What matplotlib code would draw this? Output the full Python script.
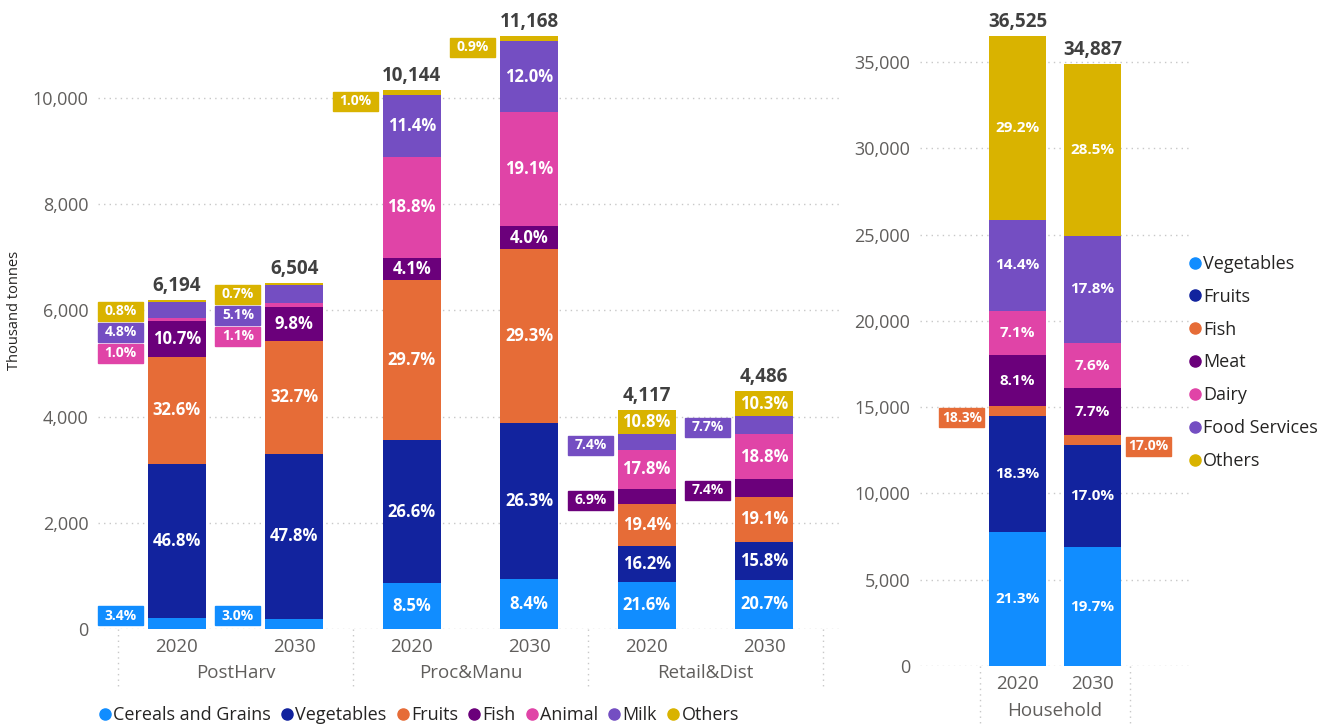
import numpy as np
import matplotlib.pyplot as plt
from matplotlib.patches import Rectangle
from matplotlib.lines import Line2D

plt.rcParams['font.family'] = ['Open Sans', 'DejaVu Sans']

# supply chain stages (left panel)
stages = ["PostHarv", "Proc&Manu", "Retail&Dist"]
years = ["2020", "2030"]
chain_cats = ["Cereals and Grains", "Vegetables", "Fruits", "Fish", "Animal", "Milk", "Others"]
chain_totals = [6194, 6504, 10144, 11168, 4117, 4486]
chain_pct = {
    "Cereals and Grains": [3.4, 3.0, 8.5, 8.4, 21.6, 20.7],
    "Vegetables":         [46.8, 47.8, 26.6, 26.3, 16.2, 15.8],
    "Fruits":             [32.6, 32.7, 29.7, 29.3, 19.4, 19.1],
    "Fish":               [10.7, 9.8, 4.1, 4.0, 6.9, 7.4],
    "Animal":             [1.0, 1.1, 18.8, 19.1, 17.8, 18.8],
    "Milk":               [4.8, 5.1, 11.4, 12.0, 7.4, 7.7],
    "Others":             [0.8, 0.7, 1.0, 0.9, 10.8, 10.3],
}
chain_labels = {k: [f"{p:.1f}%" for p in v] for k, v in chain_pct.items()}

# household (right panel)
hh_cats = ["Vegetables", "Fruits", "Fish", "Meat", "Dairy", "Food Services", "Others"]
hh_totals = [36525, 34887]
hh_pct = {
    "Vegetables":    [21.3, 19.7],
    "Fruits":        [18.3, 17.0],
    "Fish":          [1.6, 1.7],
    "Meat":          [8.1, 7.7],
    "Dairy":         [7.1, 7.6],
    "Food Services": [14.4, 17.8],
    "Others":        [29.2, 28.5],
}
hh_labels = {k: [f"{p:.1f}%" for p in v] for k, v in hh_pct.items()}
hh_labels["Fish"] = ["18.3%", "17.0%"]   # as printed on the chart

palette = ["#118DFF", "#12239E", "#E66C37", "#6B007B", "#E044A7", "#744EC2", "#D9B300"]
TICK = "#605E5C"
DARK = "#404040"

W, H = 1338, 726
fig = plt.figure(figsize=(W / 100, H / 100), dpi=100)


def add_axes_px(x0, x1, y_top, y_bot):
    return fig.add_axes([x0 / W, 1 - y_bot / H, (x1 - x0) / W, (y_bot - y_top) / H])


def style(ax, yticks):
    for s in ax.spines.values():
        s.set_visible(False)
    ax.set_yticks(yticks)
    ax.set_yticklabels([f"{t:,}" for t in yticks])
    ax.tick_params(axis='y', length=0, pad=7, labelsize=13, labelcolor=TICK)
    ax.set_xticks([])
    ax.grid(axis='y', color='#C8C8C8', linestyle=(0, (1, 3)), lw=1)
    ax.set_axisbelow(True)


def draw_stack(ax, xs, cats, pcts, labels, totals, width, sides, fs_in, fs_box):
    upp = np.diff(ax.get_ylim())[0] / ax.bbox.height
    xpp = np.diff(ax.get_xlim())[0] / ax.bbox.width
    bottoms = np.zeros(len(xs))
    outside = [[] for _ in xs]
    for j, cat in enumerate(cats):
        vals = np.array(pcts[cat]) / 100 * np.array(totals)
        ax.bar(xs, vals, width, bottom=bottoms, color=palette[j], zorder=2)
        for i, v in enumerate(vals):
            if v / upp >= 20:
                ax.text(xs[i], bottoms[i] + v / 2, labels[cat][i], ha='center', va='center',
                        color='white', fontsize=fs_in, fontweight='bold', zorder=3)
            else:
                outside[i].append((bottoms[i] + v, labels[cat][i], palette[j]))
        bottoms += vals
    bw, bh = 45 * xpp, 19 * upp
    for i, items in enumerate(outside):
        prev = None
        for top, lab, col in sorted(items, key=lambda t: -t[0]):
            c = top - (2 + 9.5) * upp
            if prev is not None:
                c = min(c, prev - 21 * upp)
            c = max(c, 13.5 * upp)
            prev = c
            if sides[i] == 'left':
                x0 = xs[i] - width / 2 - 5 * xpp - bw
            else:
                x0 = xs[i] + width / 2 + 5 * xpp
            ax.add_patch(Rectangle((x0, c - bh / 2), bw, bh, color=col, clip_on=False, zorder=3))
            ax.text(x0 + bw / 2, c, lab, ha='center', va='center', color='white',
                    fontsize=fs_box, fontweight='bold', zorder=4)
    for x, t in zip(xs, totals):
        ax.annotate(f"{t:,}", (x, t), xytext=(0, 3), textcoords='offset points',
                    ha='center', va='bottom', fontsize=13.5, fontweight='bold', color=DARK)


# ---- left panel
axL = add_axes_px(98, 842, 8, 629)
axL.set_xlim(-0.670, 5.662)
axL.set_ylim(0, 621 / 0.0531)
style(axL, [0, 2000, 4000, 6000, 8000, 10000])
xsL = np.arange(6)
draw_stack(axL, xsL, chain_cats, chain_pct, chain_labels, chain_totals, 0.49,
           ['left'] * 6, 12, 10)

trL = axL.get_xaxis_transform()
hL = 621
for i, x in enumerate(xsL):
    axL.text(x, (629 - 647) / hL, years[i % 2], transform=trL, ha='center', va='center',
             fontsize=13.5, color=TICK)
for g, name in enumerate(stages):
    axL.text(2 * g + 0.5, (629 - 673) / hL, name, transform=trL, ha='center', va='center',
             fontsize=13.5, color=TICK)
for xb in [-0.5, 1.5, 3.5, 5.5]:
    axL.add_line(Line2D([xb, xb], [0, (629 - 690) / hL], transform=trL, color='#C8C8C8',
                        ls=(0, (1, 3)), lw=1, clip_on=False))

fig.text(15 / W, 1 - 310 / H, "Thousand tonnes", rotation=90, ha='center', va='center',
         fontsize=10.5, color='#252423')

# ---- right panel
axR = add_axes_px(920, 1190, 8, 666)
axR.set_xlim(-1.3, 2.3)
axR.set_ylim(0, 658 / 0.017257)
style(axR, list(range(0, 35001, 5000)))
xsR = np.arange(2)
draw_stack(axR, xsR, hh_cats, hh_pct, hh_labels, hh_totals, 0.75,
           ['left', 'right'], 11, 10)

trR = axR.get_xaxis_transform()
hR = 658
for i, x in enumerate(xsR):
    axR.text(x, (666 - 684) / hR, years[i], transform=trR, ha='center', va='center',
             fontsize=13.5, color=TICK)
axR.text(0.5, (666 - 711) / hR, "Household", transform=trR, ha='center', va='center',
         fontsize=13.5, color=TICK)
for xb in [-0.5, 1.5]:
    axR.add_line(Line2D([xb, xb], [0, (666 - 726) / hR], transform=trR, color='#C8C8C8',
                        ls=(0, (1, 3)), lw=1, clip_on=False))

# ---- legends
handles = [Line2D([], [], marker='o', ls='', color=c, markersize=8) for c in palette]
fig.legend(handles, chain_cats, loc='center left', bbox_to_anchor=(98 / W, 1 - 715 / H),
           ncol=7, frameon=False, fontsize=13, handletextpad=0.05, columnspacing=0.5,
           handlelength=0.8, borderpad=0, borderaxespad=0, labelcolor='#252423')
fig.legend(handles, hh_cats, loc='upper left', bbox_to_anchor=(1188 / W, 1 - 255 / H),
           ncol=1, frameon=False, fontsize=13, handletextpad=0.05, labelspacing=0.82,
           handlelength=0.8, borderpad=0, borderaxespad=0, labelcolor='#252423')

fig.savefig("out.png", dpi=100)
